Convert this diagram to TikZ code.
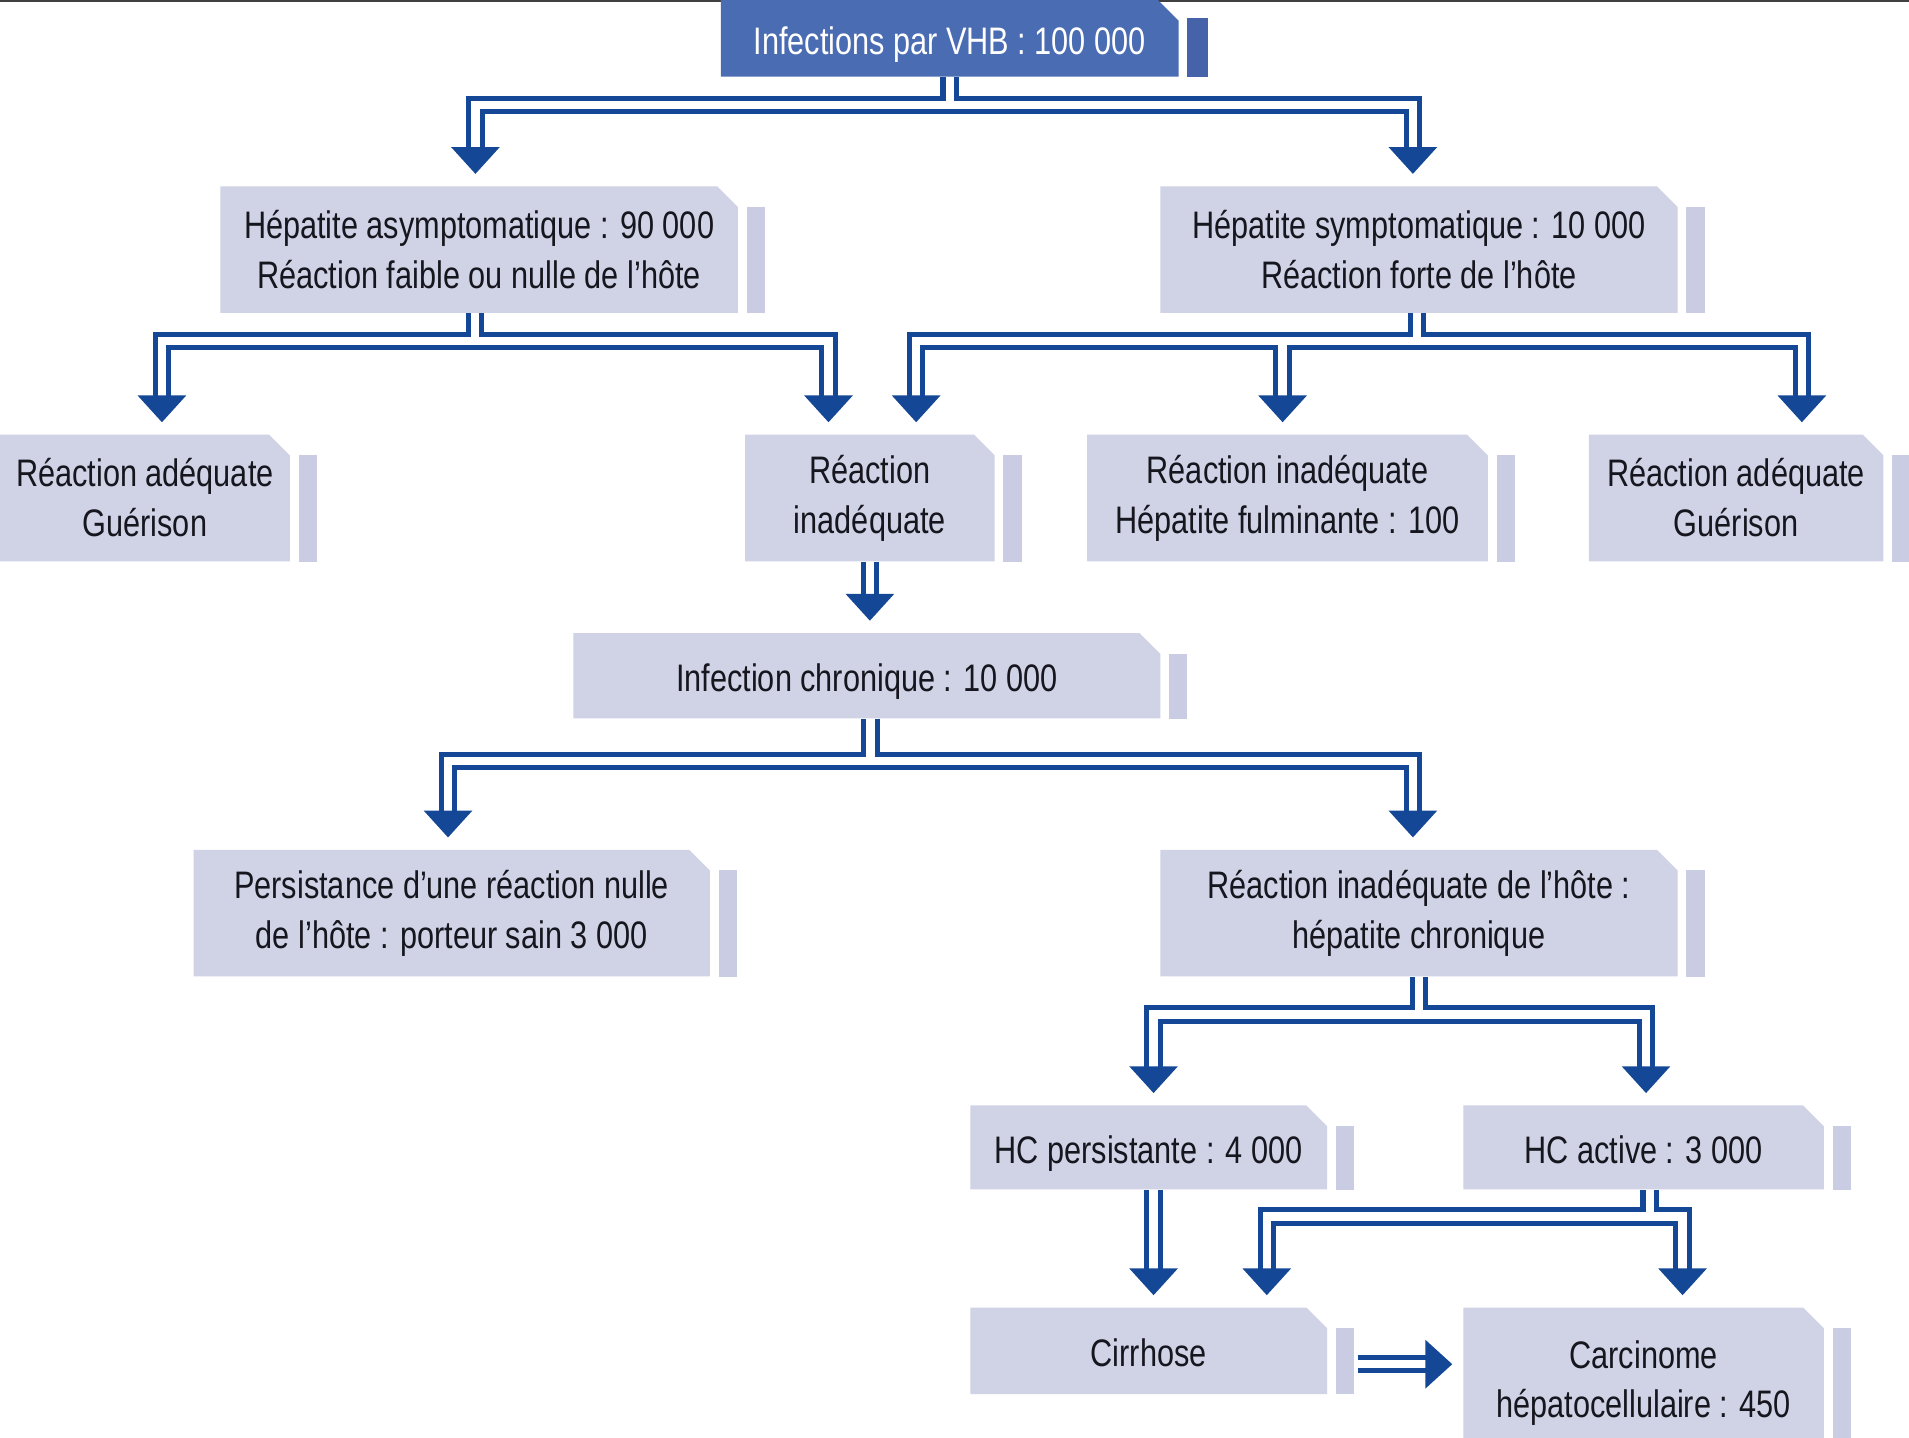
\documentclass[tikz,border=0pt]{standalone}
\usepackage{fontspec}
\setmainfont{Liberation Sans}[FakeStretch=0.8]
\usetikzlibrary{calc}
\definecolor{boxc}{RGB}{208,210,230}
\definecolor{stripc}{RGB}{201,204,226}
\definecolor{topc}{RGB}{74,108,178}
\definecolor{topstrip}{RGB}{70,98,168}
\definecolor{lnc}{RGB}{20,72,150}
\definecolor{txc}{RGB}{22,22,30}
\tikzset{
  bx/.style={rectangle, inner sep=0pt, align=center, text=txc,
    font=\fontsize{31.5}{41}\selectfont,
    path picture={\fill[#1] (path picture bounding box.south west) -- (path picture bounding box.north west)
      -- ([xshift=-17pt]path picture bounding box.north east) -- ([yshift=-17pt]path picture bounding box.north east)
      -- (path picture bounding box.south east) -- cycle;}},
  bx/.default=boxc,
  oneline/.style={text height=26pt, text depth=0pt},
  dbl/.style={draw=lnc, line width=4.2pt, double=white, double distance=6.8pt},
  arrhead/.pic={\fill[lnc] (0,0) -- (-20,-22) -- (20,-22) -- cycle;}
}
\begin{document}
\begin{tikzpicture}[x=1pt,y=-1pt]
\useasboundingbox (0,0) rectangle (1568,1181);
\fill[white] (0,0) rectangle (1568,1181);
\draw[line width=2pt, black!75] (0,1) -- (1568,1);

% boxes
\node[bx=topc, oneline, text=white, minimum width=376pt, minimum height=63pt] (top) at (780,31.5) {Infections par VHB : 100 000};
\node[bx, minimum width=425pt, minimum height=104pt] (asym) at (393.5,205) {Hépatite asymptomatique : 90 000\\Réaction faible ou nulle de l'hôte};
\node[bx, minimum width=425pt, minimum height=104pt] (sym) at (1165.5,205) {Hépatite symptomatique : 10 000\\Réaction forte de l'hôte};
\node[bx, minimum width=238pt, minimum height=104pt] (ra1) at (119,409) {Réaction adéquate\\Guérison};
\node[bx, minimum width=205pt, minimum height=104pt] (ri) at (714.5,409) {Réaction\\inadéquate};
\node[bx, minimum width=329pt, minimum height=104pt] (rif) at (1057.5,409) {Réaction inadéquate\\Hépatite fulminante : 100};
\node[bx, minimum width=242pt, minimum height=104pt] (ra2) at (1426,409) {Réaction adéquate\\Guérison};
\node[bx, oneline, minimum width=482pt, minimum height=70pt] (ic) at (712,555) {Infection chronique : 10 000};
\node[bx, minimum width=424pt, minimum height=104pt] (pers) at (371,750) {Persistance d'une réaction nulle\\de l'hôte : porteur sain 3 000};
\node[bx, minimum width=425pt, minimum height=104pt] (rih) at (1165.5,750) {Réaction inadéquate de l'hôte :\\hépatite chronique};
\node[bx, oneline, minimum width=293pt, minimum height=69pt] (hcp) at (943.5,942.5) {HC persistante : 4 000};
\node[bx, oneline, minimum width=296pt, minimum height=69pt] (hca) at (1350,942.5) {HC active : 3 000};
\node[bx, oneline, minimum width=293pt, minimum height=71pt] (cir) at (943.5,1109.5) {Cirrhose};
\node[bx, minimum width=296pt, minimum height=124pt] (carc) at (1350,1136) {Carcinome\\hépatocellulaire : 450};

% side strips
\fill[topstrip] ([xshift=7pt,yshift=-15pt]top.north east) rectangle ([xshift=24pt]top.south east);
\foreach \n in {asym,sym,ra1,ri,rif,ra2,ic,pers,rih,hcp,hca,cir,carc}
  \fill[stripc] ([xshift=7pt,yshift=-17pt]\n.north east) rectangle ([xshift=22pt]\n.south east);

% connectors
\draw[dbl] (top.south) -- ++(0,23) coordinate (jA) -| ($(asym.north)+(-3,-31)$)
  (jA) -| ($(sym.north)+(-5,-31)$);
\pic at ($(asym.north)+(-3,-10)$) {arrhead};
\pic at ($(sym.north)+(-5,-10)$) {arrhead};

\draw[dbl] ($(asym.south)+(-3.5,0)$) -- ++(0,23) coordinate (jB) -| ($(ra1.north)+(14,-31)$)
  (jB) -| ($(ri.north)+(-34,-31)$);
\pic at ($(ra1.north)+(14,-10)$) {arrhead};
\pic at ($(ri.north)+(-34,-10)$) {arrhead};

\coordinate (rifA) at ($(rif.north)+(-4,0)$);
\draw[dbl] ($(sym.south)+(-1.5,0)$) -- ++(0,23) coordinate (jC) -| ($(ri.north)+(38,-31)$)
  (jC) -| ($(ra2.north)+(54,-31)$)
  (jC -| rifA) -- ($(rifA)+(0,-31)$);
\pic at ($(ri.north)+(38,-10)$) {arrhead};
\pic at ($(rifA)+(0,-10)$) {arrhead};
\pic at ($(ra2.north)+(54,-10)$) {arrhead};

\draw[dbl] (ri.south) -- ($(ri.south |- ic.north)+(0,-31)$);
\pic at ($(ri.south |- ic.north)+(0,-10)$) {arrhead};

\draw[dbl] ($(ic.south)+(3,0)$) -- ++(0,35) coordinate (jE) -| ($(pers.north)+(-3,-31)$)
  (jE) -| ($(rih.north)+(-5,-31)$);
\pic at ($(pers.north)+(-3,-10)$) {arrhead};
\pic at ($(rih.north)+(-5,-10)$) {arrhead};

\draw[dbl] (rih.south) -- ++(0,31) coordinate (jF) -| ($(hcp.north)+(4,-31)$)
  (jF) -| ($(hca.north)+(2,-31)$);
\pic at ($(hcp.north)+(4,-10)$) {arrhead};
\pic at ($(hca.north)+(2,-10)$) {arrhead};

\draw[dbl] ($(hcp.south)+(4,0)$) -- ($(hcp.south |- cir.north)+(4,-31)$);
\pic at ($(hcp.south |- cir.north)+(4,-10)$) {arrhead};

\draw[dbl] ($(hca.south)+(5,0)$) -- ++(0,22) coordinate (jH) -| ($(cir.north)+(97,-31)$)
  (jH) -| ($(carc.north)+(32,-31)$);
\pic at ($(cir.north)+(97,-10)$) {arrhead};
\pic at ($(carc.north)+(32,-10)$) {arrhead};

\draw[dbl] ($(cir.east)+(25,11)$) -- ($(cir.east -| carc.west)+(-30,11)$);
\pic[rotate=90] at ($(cir.east -| carc.west)+(-9,11)$) {arrhead};
\end{tikzpicture}
\end{document}
